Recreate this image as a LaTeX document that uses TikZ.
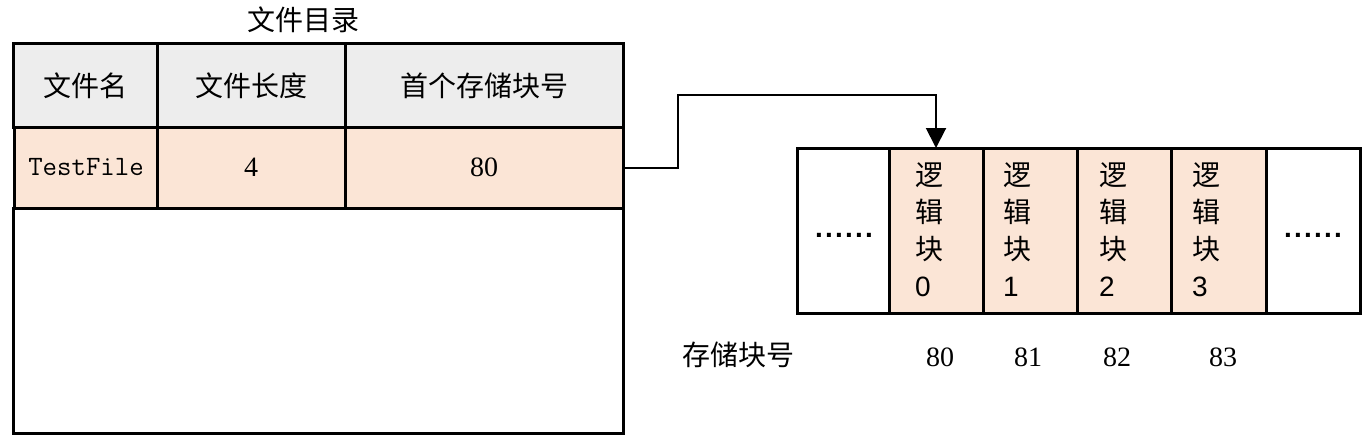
\documentclass[tikz,border=0pt]{standalone}
\usepackage{fontspec}
\newfontfamily\cjk{Noto Sans CJK SC}
\newfontfamily\arial{Liberation Sans}
\newfontfamily\tnr{Liberation Serif}
\newcommand\sixdots{.\kern2.2pt.\kern2.2pt.\kern2.2pt.\kern2.2pt.\kern2.2pt.}
\usetikzlibrary{arrows.meta,calc}
\definecolor{hdrgray}{HTML}{EDEDED}
\definecolor{peach}{HTML}{FBE5D6}
\begin{document}
\begin{tikzpicture}[x=1pt,y=-1pt,
  every node/.style={inner sep=0pt,outer sep=0pt},
  txt/.style={font=\cjk\fontsize{28}{37}\selectfont},
  cell/.style={draw=black,line width=3pt,rectangle,txt},
  hdr/.style={cell,fill=hdrgray,minimum height=83pt},
  dat/.style={cell,fill=peach,minimum height=81pt},
  blk/.style={draw=black,line width=3pt,rectangle,minimum height=165pt},
  lblk/.style={blk,fill=peach},
  stack/.style={txt,align=left,anchor=north west},
  num/.style={font=\tnr\fontsize{28}{34}\selectfont},
  dotsty/.style={font=\arial\bfseries\fontsize{28}{34}\selectfont,anchor=base},
  conn/.style={draw=black,line width=2pt}]
\useasboundingbox (0,0) rectangle (1371,436);
% title
\node[txt] (title) at (303,20) {文件目录};
% header row
\node[hdr,minimum width=144pt] (h1) at (85,85.5) {文件名};
\node[hdr,minimum width=188pt] (h2) at (251,85.5) {文件长度};
\node[hdr,minimum width=278pt] (h3) at (484,85.5) {首个存储块号};
% data row
\node[dat,minimum width=144pt,font=\ttfamily\fontsize{28}{34}\selectfont] (d1) at (86,167.5) {TestFile};
\node[dat,minimum width=188pt,num] (d2) at (251,167.5) {4};
\node[dat,minimum width=278pt,num] (d3) at (484,167.5) {80};
% empty body
\node[cell,minimum width=610pt,minimum height=225pt] (body) at (318,320.5) {};
% blocks
\node[blk,minimum width=92pt] (b0) at (843,230.5) {};
\node[lblk,minimum width=94pt] (b1) at (936,230.5) {};
\node[lblk,minimum width=94pt] (b2) at (1030,230.5) {};
\node[lblk,minimum width=94pt] (b3) at (1124,230.5) {};
\node[lblk,minimum width=95pt] (b4) at (1218.5,230.5) {};
\node[blk,minimum width=94pt] (b5) at (1313,230.5) {};
\node[dotsty] (dots0) at (844,237) {\sixdots};
\node[dotsty] (dots5) at (1313,237) {\sixdots};
\node[stack] (t1) at (915,163) {逻\\辑\\块\\{\arial 0}};
\node[stack] (t2) at (1003,163) {逻\\辑\\块\\{\arial 1}};
\node[stack] (t3) at (1099,163) {逻\\辑\\块\\{\arial 2}};
\node[stack] (t4) at (1192,163) {逻\\辑\\块\\{\arial 3}};
% labels below
\node[txt] (lab) at (738,355) {存储块号};
\node[num] (n80) at (940,357) {80};
\node[num] (n81) at (1028,357) {81};
\node[num] (n82) at (1117,357) {82};
\node[num] (n83) at (1223,357) {83};
% connector
\coordinate (c1) at ($(d3.east)+(55,0)$);
\coordinate (c2) at ($(b1.north)+(0,-53)$);
\draw[conn,-{Triangle[width=20pt,length=20pt]}] (d3.east) -- (c1) |- (c2) -- (b1.north);
\end{tikzpicture}
\end{document}
